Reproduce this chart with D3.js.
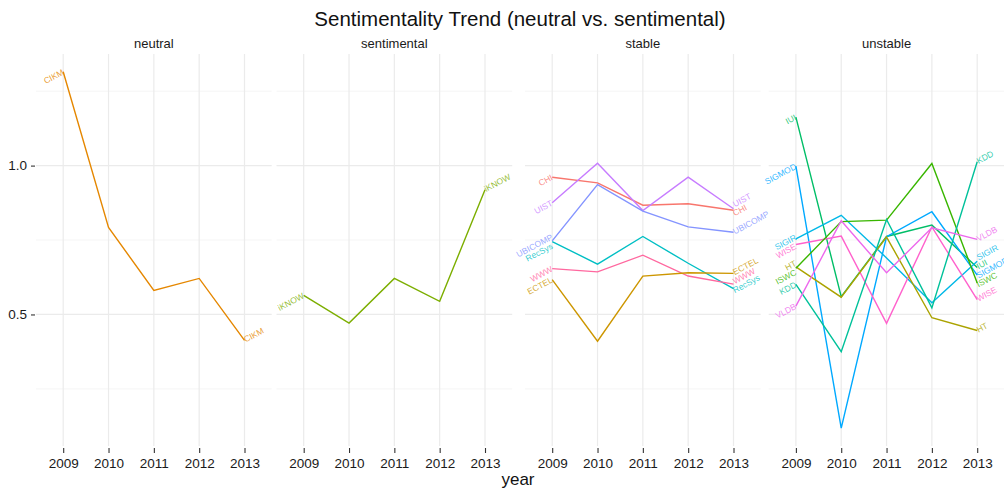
<!DOCTYPE html>
<html>
<head>
<meta charset="utf-8">
<script src="https://cdn.jsdelivr.net/npm/d3@7"></script>
<style>
body { margin: 0; background: #fff; }
text { font-family: "Liberation Sans", Arial, sans-serif; }
</style>
</head>
<body>
<svg width="1004" height="491"></svg>
<script>
var years = [2009, 2010, 2011, 2012, 2013];
var panels = ["neutral", "sentimental", "stable", "unstable"];
var yTicks = [0.5, 1.0];
var yMinor = [0.25, 0.75, 1.25];

// neutral
var CIKM = [1.315, 0.792, 0.581, 0.621, 0.413];
// sentimental
var iKNOW = [0.564, 0.471, 0.621, 0.544, 0.919];
// stable
var CHI = [0.961, 0.942, 0.867, 0.872, 0.850];
var UIST = [0.875, 1.008, 0.849, 0.961, 0.855];
var UBICOMP = [0.747, 0.936, 0.847, 0.794, 0.776];
var RecSys = [0.745, 0.669, 0.762, 0.672, 0.587];
var WWW = [0.654, 0.643, 0.699, 0.629, 0.602];
var ECTEL = [0.617, 0.410, 0.629, 0.640, 0.638];
// unstable
var IUI = [1.163, 0.560, 0.762, 0.800, 0.658];
var SIGMOD = [0.998, 0.118, 0.761, 0.845, 0.632];
var SIGIR = [0.754, 0.833, 0.690, 0.539, 0.679];
var WISE = [0.735, 0.763, 0.470, 0.794, 0.550];
var HT = [0.660, 0.558, 0.760, 0.489, 0.446];
var ISWC = [0.655, 0.812, 0.817, 1.007, 0.606];
var KDD = [0.601, 0.375, 0.819, 0.522, 1.013];
var VLDB = [0.528, 0.815, 0.640, 0.791, 0.752];

var series = [
  { name: "CIKM", panel: "neutral", values: CIKM },
  { name: "iKNOW", panel: "sentimental", values: iKNOW },
  { name: "CHI", panel: "stable", values: CHI },
  { name: "UIST", panel: "stable", values: UIST },
  { name: "UBICOMP", panel: "stable", values: UBICOMP },
  { name: "RecSys", panel: "stable", values: RecSys },
  { name: "WWW", panel: "stable", values: WWW },
  { name: "ECTEL", panel: "stable", values: ECTEL },
  { name: "IUI", panel: "unstable", values: IUI },
  { name: "SIGMOD", panel: "unstable", values: SIGMOD },
  { name: "SIGIR", panel: "unstable", values: SIGIR },
  { name: "WISE", panel: "unstable", values: WISE },
  { name: "HT", panel: "unstable", values: HT },
  { name: "ISWC", panel: "unstable", values: ISWC },
  { name: "KDD", panel: "unstable", values: KDD },
  { name: "VLDB", panel: "unstable", values: VLDB }
];

// ggplot-like hue palette, names in alphabetical order
var names = series.map(function(s) { return s.name; })
  .sort(function(a, b) { return a.toLowerCase() < b.toLowerCase() ? -1 : 1; });
var colour = d3.scaleOrdinal()
  .domain(names)
  .range(["#F8766D", "#E58700", "#CD9600", "#ABA300", "#7CAE00", "#39B600", "#00BE67", "#00C19A",
          "#00BFC4", "#00B8E7", "#00A9FF", "#8494FF", "#C77CFF", "#ED68ED", "#FF61CC", "#FF689F"]);

var svg = d3.select("svg");
var panelX = [36, 276.5, 525, 768.7],
  panelW = 235.7,
  panelTop = 54,
  panelBottom = 446;

var x = d3.scaleLinear().domain([2008.4, 2013.6]).range([0, panelW]);

var all = [].concat.apply([], series.map(function(s) { return s.values; }));
var lo = d3.min(all), hi = d3.max(all), pad = (hi - lo) * 0.05;
var y = d3.scaleLinear().domain([lo - pad, hi + pad]).range([panelBottom, panelTop]);

var line = d3.line()
  .x(function(d, i) { return x(years[i]); })
  .y(function(d) { return y(d); });

// keep end labels from sitting on top of each other
function spread(items, gap) {
  items.sort(function(a, b) { return a.y0 - b.y0; });
  var groups = items.map(function(d) { return { items: [d], c: d.y0 }; });
  var merged = true;
  while (merged) {
    merged = false;
    for (var i = 0; i < groups.length - 1; i++) {
      var a = groups[i], b = groups[i + 1];
      var aEnd = a.c + (a.items.length - 1) / 2 * gap;
      var bStart = b.c - (b.items.length - 1) / 2 * gap;
      if (bStart - aEnd < gap) {
        var its = a.items.concat(b.items);
        groups.splice(i, 2, { items: its, c: d3.mean(its, function(d) { return d.y0; }) });
        merged = true;
        break;
      }
    }
  }
  groups.forEach(function(g) {
    g.items.forEach(function(d, k) { d.y = g.c + (k - (g.items.length - 1) / 2) * gap; });
  });
}

svg.append("text")
  .attr("x", 520).attr("y", 26)
  .attr("text-anchor", "middle")
  .attr("font-size", "20.5px")
  .attr("fill", "#111")
  .text("Sentimentality Trend (neutral vs. sentimental)");

panels.forEach(function(p, pi) {
  var g = svg.append("g").attr("transform", "translate(" + panelX[pi] + ",0)");
  var data = series.filter(function(s) { return s.panel === p; });

  g.append("text")
    .attr("x", panelW / 2).attr("y", 47.5)
    .attr("text-anchor", "middle")
    .attr("font-size", "13px")
    .attr("fill", "#1a1a1a")
    .text(p);

  g.selectAll(".minor").data(yMinor).enter().append("line")
    .attr("x1", 0).attr("x2", panelW)
    .attr("y1", function(d) { return y(d); }).attr("y2", function(d) { return y(d); })
    .attr("stroke", "#F5F5F5").attr("stroke-width", 1);

  g.selectAll(".hgrid").data(yTicks).enter().append("line")
    .attr("x1", 0).attr("x2", panelW)
    .attr("y1", function(d) { return y(d); }).attr("y2", function(d) { return y(d); })
    .attr("stroke", "#EBEBEB").attr("stroke-width", 1.2);

  g.selectAll(".vgrid").data(years).enter().append("line")
    .attr("x1", function(d) { return x(d); }).attr("x2", function(d) { return x(d); })
    .attr("y1", panelTop).attr("y2", panelBottom)
    .attr("stroke", "#EBEBEB").attr("stroke-width", 1.2);

  var xa = g.append("g")
    .attr("transform", "translate(0," + (panelBottom + 2) + ")")
    .call(d3.axisBottom(x).tickValues(years).tickFormat(d3.format("d")).tickSize(5).tickPadding(5));
  xa.select(".domain").remove();
  xa.selectAll("line").attr("stroke", "#333").attr("stroke-width", 1.1);
  xa.selectAll("text").attr("font-size", "13.5px").attr("fill", "#1a1a1a")
    .attr("font-family", "Liberation Sans, Arial, sans-serif");

  if (pi === 0) {
    var ya = g.append("g")
      .attr("transform", "translate(-1,0)")
      .call(d3.axisLeft(y).tickValues(yTicks).tickFormat(d3.format(".1f")).tickSize(4).tickPadding(4));
    ya.select(".domain").remove();
    ya.selectAll("line").attr("stroke", "#333").attr("stroke-width", 1.1);
    ya.selectAll("text").attr("font-size", "13.5px").attr("fill", "#1a1a1a")
      .attr("font-family", "Liberation Sans, Arial, sans-serif");
  }

  g.selectAll(".series").data(data).enter().append("path")
    .attr("d", function(d) { return line(d.values); })
    .attr("fill", "none")
    .attr("stroke", function(d) { return colour(d.name); })
    .attr("stroke-width", 1.4);

  var first = data.map(function(d) { return { name: d.name, y0: y(d.values[0]) }; });
  var last = data.map(function(d) { return { name: d.name, y0: y(d.values[d.values.length - 1]) }; });
  spread(first, 9);
  spread(last, 9);

  [[first, x(years[0]), "end"], [last, x(years[years.length - 1]), "start"]].forEach(function(side) {
    g.selectAll(null).data(side[0]).enter().append("text")
      .attr("transform", function(d) { return "translate(" + side[1] + "," + d.y + ") rotate(-28)"; })
      .attr("text-anchor", side[2])
      .attr("dy", "0.3em")
      .attr("font-size", "8.5px")
      .attr("fill", function(d) { return colour(d.name); })
      .attr("fill-opacity", 0.8)
      .text(function(d) { return d.name; });
  });
});

svg.append("text")
  .attr("x", 518).attr("y", 485)
  .attr("text-anchor", "middle")
  .attr("font-size", "17px")
  .attr("fill", "#111")
  .text("year");
</script>
</body>
</html>
